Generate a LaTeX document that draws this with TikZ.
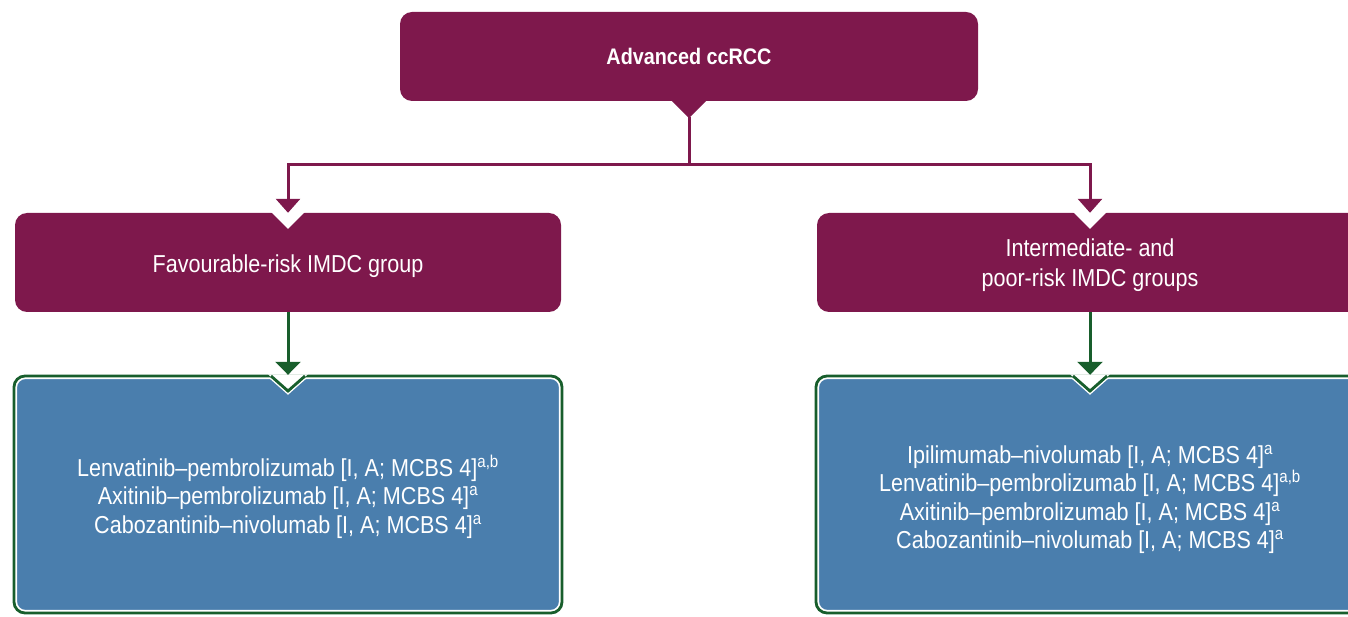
\documentclass[tikz,border=0pt]{standalone}
\usepackage{fontspec}
\setmainfont{Liberation Sans}[FakeStretch=0.88]
\usetikzlibrary{arrows.meta}
\definecolor{cmag}{RGB}{126,24,76}
\definecolor{cblue}{RGB}{74,126,173}
\definecolor{cgreen}{RGB}{24,94,44}
\begin{document}
\begin{tikzpicture}[x=1pt,y=-1pt,
  magbox/.style={fill=cmag, text=white, rounded corners=12pt, inner sep=0pt, align=center, font=\fontsize{24.5}{30}\selectfont},
  bluebox/.style={fill=cblue, draw=white, line width=1.6pt, rounded corners=9pt, text=white, align=center, outer sep=3.5pt, inner sep=0pt, font=\fontsize{24.5}{28.5}\selectfont},
  mline/.style={draw=cmag, line width=3pt},
  marrow/.style={mline, -{Triangle[width=24pt,length=14pt]}},
  garrow/.style={draw=cgreen, line width=3pt, -{Triangle[width=25pt,length=13pt]}},
  gframe/.style={draw=cgreen, line width=2.8pt, rounded corners=11pt},
  gvee/.style={draw=cgreen, line width=2.8pt},
  wvee/.style={draw=white, line width=1.6pt},
]
\useasboundingbox (0,0) rectangle (1348,617);
\clip (0,0) rectangle (1348,617);

% magenta boxes
\node[magbox, minimum width=578pt, minimum height=89pt, font=\fontsize{22.5}{25}\selectfont\bfseries] (top) at (689,56.5) {Advanced ccRCC};
\node[magbox, minimum width=546pt, minimum height=99pt] (lm) at (288,262.5) {\raisebox{-4pt}[\height][\depth]{Favourable-risk IMDC group}};
\node[magbox, minimum width=546pt, minimum height=99pt] (rm) at (1090,262.5) {\rule{0pt}{24pt}Intermediate- and\\poor-risk IMDC groups};

% pointer under top box
\fill[cmag] ([xshift=-18pt,yshift=1pt]top.south) -- ([xshift=18pt,yshift=1pt]top.south) -- ([yshift=-17pt]top.south) -- cycle;

% notches in magenta boxes
\foreach \n in {lm,rm}{
  \fill[white] ([xshift=-17pt,yshift=1pt]\n.north) -- ([xshift=17pt,yshift=1pt]\n.north) -- ([yshift=-16pt]\n.north) -- cycle;
}

% blue boxes
\node[bluebox, minimum width=543.4pt, minimum height=232.4pt] (lb) at (288,494.5)
  {\rule{0pt}{26pt}Lenvatinib–pembrolizumab [I, A; MCBS 4]\textsuperscript{a,b}\\
   Axitinib–pembrolizumab [I, A; MCBS 4]\textsuperscript{a}\\
   Cabozantinib–nivolumab [I, A; MCBS 4]\textsuperscript{a}};
\node[bluebox, minimum width=543.4pt, minimum height=232.4pt] (rb) at (1090,494.5)
  {\rule{0pt}{28pt}Ipilimumab–nivolumab [I, A; MCBS 4]\textsuperscript{a}\\
   Lenvatinib–pembrolizumab [I, A; MCBS 4]\textsuperscript{a,b}\\
   Axitinib–pembrolizumab [I, A; MCBS 4]\textsuperscript{a}\\
   Cabozantinib–nivolumab [I, A; MCBS 4]\textsuperscript{a}};

\foreach \n in {lb,rb}{
  \draw[gframe] ([shift={(1.2,1.2)}]\n.north west) rectangle ([shift={(-1.2,-1.2)}]\n.south east);
  \fill[white] ([xshift=-20pt,yshift=0.5pt]\n.north) -- ([xshift=20pt,yshift=0.5pt]\n.north) -- ([yshift=-17.2pt]\n.north) -- cycle;
  \draw[wvee] ([xshift=-17.45pt,yshift=-3.5pt]\n.north) -- ([yshift=-18.9pt]\n.north) -- ([xshift=17.45pt,yshift=-3.5pt]\n.north);
  \draw[gvee] ([xshift=-17pt,yshift=-1.2pt]\n.north) -- ([yshift=-16.2pt]\n.north) -- ([xshift=17pt,yshift=-1.2pt]\n.north);
}

% connectors
\coordinate (bus) at (689,165);
\draw[mline] ([yshift=-16pt]top.south) -- (bus);
\draw[marrow] (bus) -| (lm.north);
\draw[marrow] (bus) -| (rm.north);
\draw[garrow] (lm.south) -- (lb.north);
\draw[garrow] (rm.south) -- (rb.north);
\end{tikzpicture}
\end{document}
